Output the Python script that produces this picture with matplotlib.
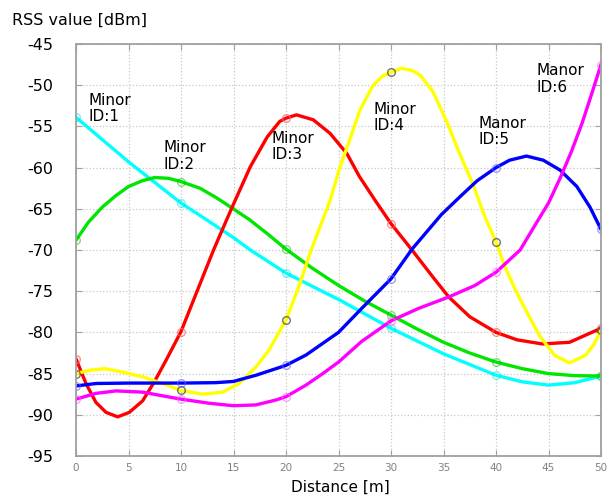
import matplotlib.pyplot as plt
from matplotlib.ticker import MultipleLocator
from matplotlib.colors import to_rgba

plt.rcParams['axes.unicode_minus'] = False

# values (distance in m, RSS in dBm)
cyan_x = [0, 5, 10, 11.8, 15, 16.6, 20, 25, 30, 35, 40, 42.5, 45, 47.5, 50]
cyan_y = [-53.9, -59.3, -64.3, -65.8, -68.5, -70.0, -72.8, -76.0, -79.5, -82.6, -85.2, -86.0,
          -86.4, -86.1, -85.3]

green_x = [0, 1.2, 2.5, 3.8, 5, 6.3, 7.5, 8.8, 10, 11.8, 13.3, 14.8, 16.5, 18.2, 20, 22.5, 25,
           27.5, 30, 32.5, 35, 37.5, 40, 42.5, 45, 47.5, 50]
green_y = [-68.8, -66.6, -64.8, -63.4, -62.3, -61.6, -61.2, -61.3, -61.7, -62.5, -63.6, -64.85,
           -66.3, -68.0, -69.9, -72.2, -74.3, -76.2, -77.9, -79.6, -81.2, -82.5, -83.6, -84.4,
           -85.0, -85.25, -85.3]

red_x = [0, 0.95, 1.9, 2.86, 3.97, 5.08, 6.35, 7.46, 8.57, 10, 11.5, 13.1, 14.8, 16.6, 18.2,
         19.4, 20, 21, 22.6, 24.2, 25.8, 27, 28.5, 30, 32, 34, 35.5, 37.5, 40, 42, 44.4, 47, 50]
red_y = [-83.2, -86.2, -88.5, -89.7, -90.25, -89.7, -88.3, -86.0, -83.4, -79.9, -75.1, -70.0,
         -65.0, -59.9, -56.3, -54.4, -54.0, -53.6, -54.2, -55.85, -58.3, -61.1, -64.0, -66.8,
         -70.0, -73.3, -75.7, -78.1, -80.0, -80.9, -81.4, -81.2, -79.5]

yellow_x = [0, 1.27, 2.7, 4.4, 6.35, 8.25, 10, 12.06, 13.97, 15.55, 17.14, 18.4, 20, 21.2, 22.4,
            24.2, 25.1, 26.1, 27.05, 28.3, 29.2, 30, 31, 32, 32.8, 34, 35.3, 36.6, 37.8, 38.95,
            40, 40.86, 41.8, 43, 44.2, 45.6, 47, 48.5, 49.3, 50]
yellow_y = [-85.0, -84.6, -84.4, -84.8, -85.4, -86.2, -87.05, -87.5, -87.25, -86.2, -84.2, -82.1,
            -78.5, -74.5, -70.0, -64.0, -60.1, -56.5, -53.0, -50.0, -48.9, -48.4, -47.95, -48.2,
            -48.8, -50.8, -54.4, -58.5, -62.0, -66.0, -69.0, -72.05, -74.7, -77.7, -80.5, -82.8,
            -83.7, -82.8, -81.5, -79.75]

blue_x = [0, 1.9, 5, 10, 13.3, 15, 17.14, 20, 21.9, 25, 27.2, 30, 32, 34.8, 36.6, 38.2, 40, 41.3,
          42.9, 44.5, 46.1, 47.7, 48.95, 50]
blue_y = [-86.5, -86.2, -86.15, -86.15, -86.1, -85.95, -85.2, -84.0, -82.75, -80.0, -77.1, -73.5,
          -69.9, -65.7, -63.5, -61.6, -60.0, -59.1, -58.6, -59.1, -60.3, -62.3, -64.8, -67.5]

magenta_x = [0, 1.9, 3.8, 6.35, 8.25, 10, 12.7, 15, 17.14, 19.05, 20, 21.9, 23.5, 25, 27.2, 30,
             32.6, 35.5, 38, 40, 42.3, 43.9, 45, 46.1, 47.2, 48.2, 49.1, 50]
magenta_y = [-88.1, -87.4, -87.1, -87.25, -87.7, -88.1, -88.6, -88.9, -88.8, -88.2, -87.8, -86.4,
             -85.0, -83.6, -81.1, -78.6, -77.1, -75.7, -74.3, -72.7, -70.0, -66.6, -64.3, -61.3,
             -58.0, -54.6, -51.1, -47.5]

labels = ["Minor\nID:1", "Minor\nID:2", "Minor\nID:3", "Minor\nID:4", "Manor\nID:5", "Manor\nID:6"]
label_x = [1.2, 8.3, 18.6, 28.3, 38.3, 43.9]
label_y = [-50.9, -56.7, -55.5, -52.0, -53.7, -47.3]

series = [
    (cyan_x, cyan_y, '#00ffff', to_rgba('#00e0e0', 0.5)),
    (green_x, green_y, '#00e600', to_rgba('#00c000', 0.5)),
    (red_x, red_y, '#ff0000', to_rgba('#ff6060', 0.7)),
    (yellow_x, yellow_y, '#ffff00', to_rgba('#505050', 0.8)),
    (blue_x, blue_y, '#0000ff', to_rgba('#6060ff', 0.6)),
    (magenta_x, magenta_y, '#ff00ff', to_rgba('#ff60ff', 0.6)),
]

fig = plt.figure(figsize=(6.11, 4.99), dpi=100)
ax = fig.add_axes([76 / 611, 43 / 499, 525 / 611, 412 / 499])

for xs, ys, col, mcol in series:
    marks = [i for i, v in enumerate(xs) if v % 10 == 0]
    ax.plot(xs, ys, color=col, lw=2.4, solid_capstyle='round', solid_joinstyle='round',
            marker='o', markevery=marks, markersize=5.5, markerfacecolor='none',
            markeredgecolor=mcol, markeredgewidth=1.0)

for txt, tx, ty in zip(labels, label_x, label_y):
    ax.text(tx, ty, txt, fontsize=11, va='top', ha='left', linespacing=1.15, color='black')

ax.set_xlim(0, 50)
ax.set_ylim(-95, -45)
ax.xaxis.set_major_locator(MultipleLocator(5))
ax.yaxis.set_major_locator(MultipleLocator(5))
ax.grid(True, color='#c8c8c8', linestyle=':', linewidth=0.9)
ax.set_axisbelow(True)

for sp in ax.spines.values():
    sp.set_color('#a0a0a0')
    sp.set_linewidth(1.3)

ax.tick_params(axis='both', direction='in', top=True, right=True, length=4, color='#a0a0a0')
ax.tick_params(axis='x', labelsize=7.5, labelcolor='#808080', pad=5)
ax.tick_params(axis='y', labelsize=11.5, labelcolor='black', pad=16.5)

fig.text(12 / 611, 1 - 20 / 499, "RSS value [dBm]", fontsize=11.5, va='center', ha='left')
fig.text(340 / 611, 1 - 487 / 499, "Distance [m]", fontsize=11, va='center', ha='center')

fig.savefig('out.png', dpi=100)
